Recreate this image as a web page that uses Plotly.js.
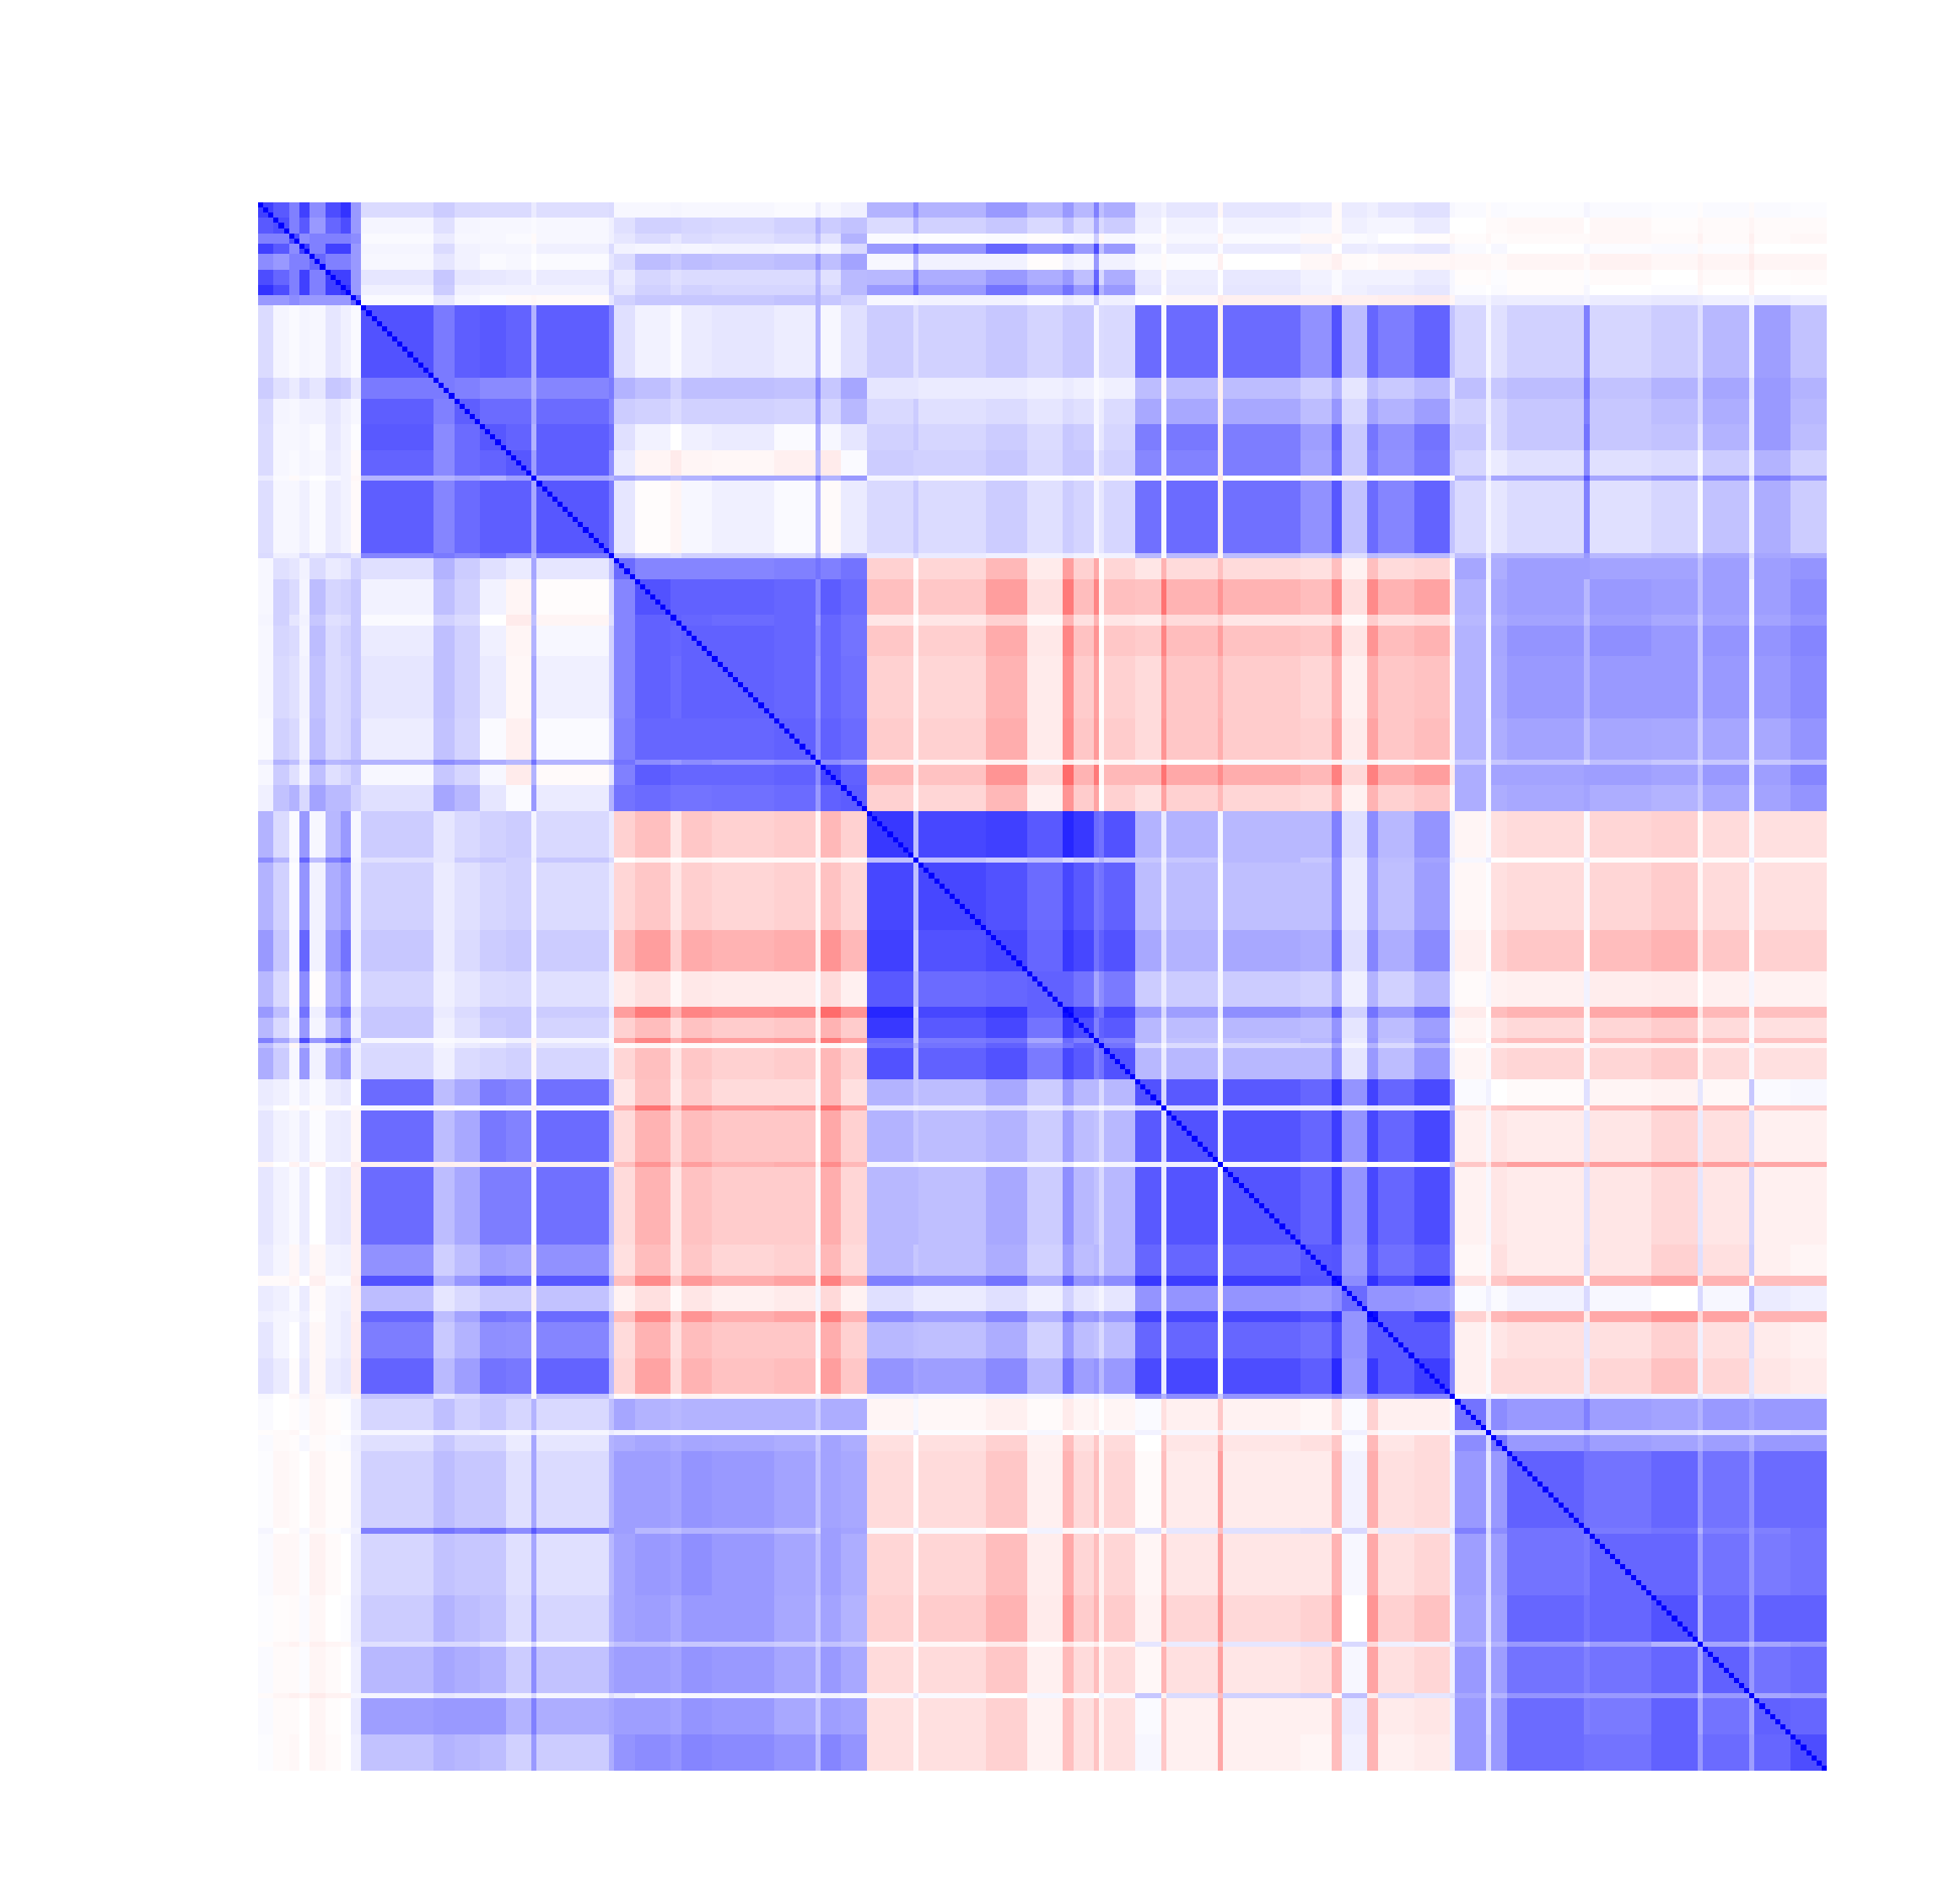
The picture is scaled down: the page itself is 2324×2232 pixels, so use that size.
<!DOCTYPE html>
<html><head><meta charset="utf-8">
<script src="https://cdn.plot.ly/plotly-3.0.1.min.js"></script>
<style>html,body{margin:0;padding:0;background:#fff}</style></head>
<body><div id="chart" style="width:2324px;height:2232px"></div>
<script>
// Band edges (cell indices of the 304 x 304 matrix), one list per cluster.
const edgesA=[0,3,6,8,10,13,16,18,20];
const edgesB=[20,34,38,43,48,53,54,68,69];
const edgesC=[69,73,80,82,88,100,108,109,113,118];
const edgesD=[118,127,128,141,149,156,158,162,163,164,170];
const edgesE=[170,175,176,186,187,202,208,210,215,217,224,231,232];
const edgesF=[232,238,239,242,257,258,270,279,280,289,290,297,304];

// Band values, correlation x 100, estimated by eye. Upper triangle only; the matrix is symmetric.
const AA=[[75,65,50,75,45,70,80,40],[70,50,65,40,60,70,40],[70,45,50,50,50,45],[75,50,75,75,40],[60,50,50,40],[75,75,40],[80,40],[60]];
const AB=[[14,20,15,14,14,8,13,14],[4,12,4,3,3,2,3,6],[2,8,3,3,2,-2,3,6],[4,14,5,4,4,2,6,14],[3,10,5,2,3,0,2,10],[10,22,10,9,8,3,8,16],[6,20,6,5,5,5,5,16],[2,10,3,1,-2,-3,-2,10]];
const AC=[[3,3,4,3,3,2,8,3,6],[12,18,18,16,15,18,30,20,24],[10,14,10,14,12,15,25,12,30],[5,4,5,4,5,4,8,3,15],[14,26,22,26,24,26,40,25,36],[8,16,12,14,14,14,28,12,27],[10,18,14,18,16,16,30,16,27],[18,22,22,22,22,24,30,22,18]];
const AD=[[30,45,30,40,28,40,28,50,25,32],[14,30,18,22,15,25,15,35,15,20],[2,3,1,2,-1,2,3,20,-3,3],[40,60,42,60,45,55,40,70,25,40],[3,25,5,5,-1,6,4,40,5,5],[28,50,32,40,32,40,25,60,15,32],[40,60,40,55,42,55,40,70,30,40],[3,4,5,5,2,8,5,20,5,6]];
const AE=[[8,5,10,-3,10,8,-2,8,6,10,12,3],[6,0,5,0,5,4,-2,6,4,4,8,0],[2,-2,3,-5,2,-3,-4,2,3,0,-1,-3],[6,0,7,1,8,6,0,8,6,8,10,4],[2,-2,1,-6,0,-3,-6,-2,-1,-3,-3,-4],[8,-1,7,0,9,5,2,5,5,5,8,3],[10,0,8,0,10,6,2,6,8,8,10,3],[0,-2,-3,-8,-6,-6,-8,-6,-6,-7,-8,-4]];
const AF=[[2,-1,2,1,4,2,1,-1,2,-2,2,1],[0,-2,-2,-3,0,-3,-1,-3,-2,-4,-2,-2],[-1,-3,-1,-2,-2,-3,-2,-5,-2,-6,-2,-3],[2,0,3,0,3,1,2,-2,1,-4,0,0],[-3,-3,-2,-4,-2,-5,-3,-6,-4,-8,-4,-4],[-1,-2,1,-1,1,-2,0,-4,-2,-5,-1,-2],[1,0,2,-1,3,0,1,-3,0,-5,0,0],[6,4,8,7,5,8,9,8,6,3,8,6]];

const BB=[[68,52,63,65,61,30,63,48],[52,50,46,46,30,48,52],[63,58,58,34,58,48],[66,61,30,63,56],[66,38,63,44],[100,34,30],[66,52],[100]];
const BC=[[12,5,2,8,10,7,30,3,12],[30,25,18,25,25,24,45,22,35],[20,18,14,18,18,17,40,16,28],[12,5,0,6,8,2,32,3,10],[8,-4,-8,-4,-3,-6,28,-8,2],[35,30,25,30,35,35,55,30,40],[10,-1,-4,3,6,2,30,-2,8],[25,15,12,18,18,15,35,10,30]];
const BD=[[20,12,18,22,17,22,22,3,14,15],[10,10,8,8,6,8,6,2,4,6],[15,20,12,14,10,14,12,3,8,14],[18,22,16,20,14,22,20,2,10,16],[20,18,18,22,15,22,22,5,14,18],[4,5,-1,1,1,2,1,-4,-3,-2],[15,22,14,20,12,20,17,4,10,16],[8,15,8,6,5,8,5,2,4,5]];
const BE=[[58,3,58,-5,58,43,68,26,60,51,61,24],[26,-2,26,-6,26,19,30,10,26,21,27,10],[34,0,34,-5,34,26,41,15,36,30,38,15],[51,2,53,-6,51,38,61,21,54,44,55,21],[47,3,49,-6,51,36,58,21,51,43,53,21],[-1,-5,-2,-10,0,-4,1,-4,0,-2,-2,-2],[56,3,58,-5,56,43,66,24,58,48,61,24],[27,2,27,-3,26,20,30,13,27,24,27,12]];
const BF=[[16,3,12,18,50,16,20,12,28,4,38,24],[25,6,22,26,55,24,30,15,35,10,40,30],[18,6,16,22,50,22,26,15,32,8,40,28],[22,4,16,22,55,22,24,10,30,8,40,26],[16,3,8,12,45,12,14,2,20,5,30,18],[30,10,35,35,65,35,40,15,45,15,50,40],[15,4,10,14,50,12,16,2,24,4,32,20],[25,8,30,30,40,28,30,20,35,12,35,32]];

const CC=[[58,48,48,48,48,50,55,50,55],[68,62,62,62,60,45,64,58],[62,60,58,60,40,60,55],[62,62,60,45,60,55],[62,60,42,60,56],[62,45,62,58],[100,45,40],[72,62],[64]];
const CD=[[-18,0,-16,-28,-8,-38,-18,-34,-2,-16],[-25,-4,-22,-38,-12,-52,-26,-48,-4,-25],[-10,0,-10,-18,-3,-30,-12,-30,0,-10],[-22,-3,-19,-33,-9,-48,-24,-42,-2,-22],[-18,-2,-16,-30,-8,-44,-20,-38,-1,-18],[-20,-2,-18,-32,-8,-46,-22,-40,-2,-20],[-3,3,-3,-5,2,-8,-4,-8,0,-3],[-28,-5,-24,-42,-14,-58,-30,-52,-3,-28],[-18,-2,-16,-28,-6,-42,-20,-36,0,-18]];
const CE=[[-10,-30,-14,-25,-14,-12,-25,-5,-25,-14,-16,-2],[-24,-55,-30,-42,-30,-26,-46,-12,-46,-30,-36,-6],[-8,-25,-14,-20,-10,-10,-20,-2,-20,-12,-14,0],[-20,-48,-26,-38,-24,-22,-40,-10,-42,-26,-30,-5],[-14,-40,-22,-30,-20,-16,-32,-6,-32,-22,-24,-3],[-14,-42,-22,-32,-20,-18,-36,-8,-36,-22,-26,-3],[2,-8,0,-6,2,3,-5,4,-5,2,0,3],[-28,-55,-34,-45,-32,-28,-50,-15,-50,-32,-38,-8],[-12,-36,-18,-28,-16,-14,-30,-5,-30,-18,-22,-2]];
const CF=[[35,5,32,38,38,36,36,25,38,8,38,42],[30,3,35,38,28,40,38,25,38,3,38,45],[28,2,32,36,25,38,34,20,36,2,36,42],[30,2,35,42,30,44,40,22,42,3,42,48],[30,2,34,40,30,40,40,22,40,3,40,46],[30,3,32,36,25,35,34,20,35,3,34,42],[20,4,22,24,15,25,22,15,22,6,22,26],[32,3,36,36,38,38,36,24,40,5,38,48],[32,3,32,34,36,32,30,22,34,3,36,42]];

const DD=[[78,25,72,75,65,85,78,58,55,68],[100,25,20,25,15,20,20,30,22],[72,68,58,72,65,52,55,62],[72,60,78,72,55,62,68],[62,62,55,35,45,52],[95,78,58,55,72],[70,50,62,65],[100,55,50],[100,55],[68]];
const DE=[[30,8,30,3,28,28,50,12,45,28,42,6],[22,6,22,2,28,22,45,8,38,26,36,8],[26,8,26,0,25,25,45,8,38,25,38,4],[34,12,30,2,34,32,55,12,48,32,46,6],[20,8,20,3,20,18,32,6,30,18,28,4],[40,15,38,6,44,38,62,18,55,40,55,8],[28,8,26,0,28,26,42,10,40,26,38,3],[28,8,24,0,24,28,45,8,42,24,42,6],[15,3,14,-1,15,16,35,4,30,15,28,2],[28,8,28,4,28,28,45,10,40,26,40,6]];
const DF=[[-4,2,-12,-14,2,-16,-18,-2,-14,2,-12,-12],[3,8,0,0,6,-1,-1,3,-1,8,-1,-1],[-3,1,-12,-14,2,-16,-20,-3,-14,2,-12,-12],[-6,1,-18,-22,0,-26,-30,-8,-22,0,-18,-18],[-2,3,-5,-6,5,-7,-8,0,-6,4,-5,-5],[-8,0,-26,-30,-3,-34,-40,-10,-28,-3,-25,-25],[-4,1,-12,-15,2,-16,-20,-4,-14,2,-12,-12],[-6,0,-22,-26,0,-26,-30,-8,-26,0,-24,-24],[0,4,-4,-4,5,-5,-5,0,-4,5,-4,-4],[-4,2,-14,-16,2,-16,-20,-3,-14,2,-12,-12]];

const EE=[[68,15,65,5,65,60,78,42,74,60,71,45],[100,12,5,8,8,12,6,10,8,8,30],[68,5,67,60,76,42,72,60,72,45],[100,3,-2,2,-4,0,-1,0,20],[67,60,76,42,72,60,70,42],[66,67,40,67,56,63,42],[95,45,81,69,84,48],[58,42,42,40,35],[95,65,78,45],[65,65,45],[76,48],[65]];
const EF=[[2,5,0,-2,12,-4,-5,10,-3,22,2,3],[-12,-5,-22,-25,-3,-28,-35,-10,-30,-5,-22,-22],[-6,3,-10,-8,10,-10,-16,8,-12,14,-6,-6],[-22,-10,-30,-38,-25,-38,-42,-25,-38,-25,-35,-35],[-5,3,-10,-8,12,-10,-15,10,-10,18,-6,-6],[-3,2,-12,-8,14,-10,-18,12,-12,20,-6,-4],[-12,-3,-22,-28,-2,-30,-36,-8,-30,-2,-26,-26],[2,6,2,5,15,3,0,15,3,25,8,6],[-18,-6,-28,-32,-8,-34,-42,-15,-36,-8,-30,-30],[-6,2,-10,-12,10,-12,-18,6,-12,14,-8,-6],[-6,2,-14,-14,8,-16,-24,5,-16,10,-10,-8],[2,5,2,5,10,5,4,10,5,12,6,6]];

const FF=[[55,15,45,40,50,38,36,30,40,35,40,40],[100,15,10,15,12,12,8,10,10,10,12],[55,40,45,38,36,30,38,30,40,40],[62,55,55,60,40,55,42,58,58],[100,52,55,30,50,40,50,55],[60,60,38,55,40,52,55],[68,30,60,40,62,62],[100,35,25,35,40],[62,40,55,58],[100,35,38],[62,60],[70]];

const clusterEdges=[edgesA,edgesB,edgesC,edgesD,edgesE,edgesF];
const pairTables=[[AA,AB,AC,AD,AE,AF],[null,BB,BC,BD,BE,BF],[null,null,CC,CD,CE,CF],[null,null,null,DD,DE,DF],[null,null,null,null,EE,EF],[null,null,null,null,null,FF]];

const N=304;
const z=Array.from({length:N},()=>new Array(N).fill(0));
for(let p=0;p<6;p++)for(let q=p;q<6;q++){
  const T=pairTables[p][q],re=clusterEdges[p],ce=clusterEdges[q];
  T.forEach((row,ri)=>row.forEach((v,k)=>{
    const ci=p===q?ri+k:k;
    for(let i=re[ri];i<re[ri+1];i++)for(let j=ce[ci];j<ce[ci+1];j++){z[i][j]=v/100;z[j][i]=v/100;}
  }));
}
for(let i=0;i<N;i++)z[i][i]=1; // the diagonal is a solid pure-blue line in the picture

const idx=Array.from({length:N},(_,i)=>i);
Plotly.newPlot('chart',[{type:'heatmap',x:idx,y:idx,z:z,zmin:-1,zmax:1,zsmooth:false,showscale:false,hoverongaps:false,
  colorscale:[[0,'rgb(255,0,0)'],[0.5,'rgb(255,255,255)'],[1,'rgb(0,0,255)']]}],
 {width:2324,height:2232,paper_bgcolor:'#fff',plot_bgcolor:'#fff',margin:{l:306,r:158,t:240,b:132,pad:0},
  xaxis:{visible:false,range:[-0.5,N-0.5],showgrid:false,zeroline:false},
  yaxis:{visible:false,range:[N-0.5,-0.5],showgrid:false,zeroline:false}},
 {displayModeBar:false,staticPlot:true});
</script></body></html>
